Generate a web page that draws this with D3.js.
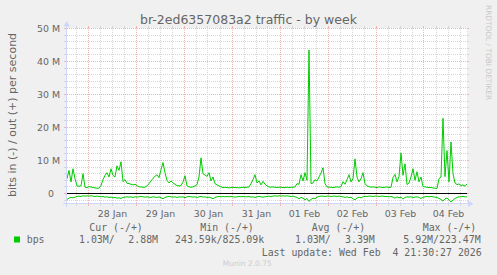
<!DOCTYPE html>
<html><head><meta charset="utf-8">
<script src="https://cdn.jsdelivr.net/npm/d3@7"></script>
<style>
html,body{margin:0;padding:0;background:#f0f0f0;}
svg{display:block;}
text{white-space:pre;}
</style></head><body>
<svg id="c" width="497" height="275"></svg>
<script>
// ---------------- data ----------------
const title = "br-2ed6357083a2 traffic - by week";
const yAxisTitle = "bits in (-) / out (+) per second";
const startTime = "2026-01-27T13:30:00Z";
const endTime = "2026-02-04T21:30:00Z";
const stepHours = 1;
// out (+) in Mbit/s, one value per hour
const outValues = [
 4.5,7.0,3.5,7.5,4.5,2.3,2.2,2.3,6.0,1.9,
 1.8,2.1,2.0,1.8,1.7,1.6,1.6,2.4,4.2,5.5,
 6.3,5.0,7.5,5.5,5.0,8.4,7.0,9.6,3.6,4.2,
 3.1,3.0,2.8,2.6,2.8,2.4,2.0,2.0,1.9,1.9,
 2.3,3.0,3.8,4.6,5.2,5.7,4.8,7.2,9.4,6.3,
 4.0,3.2,3.8,3.2,2.8,2.4,2.3,2.4,3.5,5.4,
 2.3,2.0,1.9,2.0,2.3,2.7,5.0,10.8,6.0,5.6,
 5.2,6.3,3.8,5.0,3.0,2.6,2.3,2.0,1.8,1.9,
 1.8,1.7,1.8,1.9,1.8,1.8,1.7,1.8,1.9,1.8,
 1.9,2.0,3.0,4.2,5.7,3.2,3.8,2.6,3.7,2.8,
 2.3,2.0,1.9,2.0,1.9,1.8,1.9,1.9,1.8,1.8,
 1.9,1.8,1.9,1.9,2.0,3.0,2.8,5.7,3.8,6.3,
 4.0,43.5,3.0,3.2,4.2,3.8,5.0,6.2,7.8,3.0,
 2.0,1.9,1.9,1.8,1.9,2.0,1.9,2.1,3.6,2.8,
 4.2,5.7,3.5,4.5,10.5,5.0,3.5,4.5,6.3,3.0,
 2.3,2.1,1.9,2.0,1.9,1.8,2.0,1.9,1.8,1.9,
 2.0,1.8,1.9,4.8,5.8,3.5,5.1,12.3,5.5,9.0,
 2.7,3.2,5.0,7.5,4.0,6.6,3.5,5.0,2.1,2.0,
 1.9,1.8,1.8,1.7,1.6,1.5,4.5,5.0,22.8,5.1,
 13.0,3.5,15.6,6.0,3.2,2.7,2.9,2.4,2.6,2.2,
 2.9
];
// in (-) in Mbit/s, one value per hour
const inValues = [
 -1.8,-1.4,-1.2,-1.3,-1.1,-0.9,-0.8,-0.9,-0.7,-0.8,
 -0.7,-0.8,-0.7,-0.8,-0.9,-0.8,-0.9,-1.0,-0.9,-1.1,
 -1.0,-1.2,-1.1,-1.3,-1.2,-1.4,-1.3,-1.5,-1.2,-1.1,
 -1.0,-1.1,-1.0,-1.2,-1.0,-1.1,-1.0,-0.9,-1.0,-1.1,
 -1.0,-1.1,-1.2,-1.0,-1.1,-1.2,-1.0,-1.3,-1.6,-1.2,
 -1.0,-0.9,-1.0,-1.1,-1.0,-1.2,-1.0,-1.1,-1.0,-1.3,
 -1.0,-0.9,-1.0,-1.1,-1.0,-1.2,-1.0,-0.9,-1.1,-1.0,
 -1.2,-1.1,-1.3,-1.6,-1.2,-1.0,-0.9,-1.0,-0.9,-1.0,
 -0.9,-1.0,-0.9,-1.0,-1.1,-1.0,-0.9,-1.0,-0.9,-1.0,
 -1.0,-0.9,-1.1,-1.0,-1.2,-1.0,-0.9,-1.0,-1.1,-1.0,
 -0.9,-0.8,-0.9,-0.8,-0.7,-0.8,-0.7,-0.8,-0.7,-0.8,
 -0.7,-0.8,-0.9,-0.8,-1.0,-1.2,-1.6,-1.2,-1.4,-1.9,
 -1.5,-2.4,-1.8,-1.4,-1.6,-1.1,-0.9,-0.8,-0.8,-0.9,
 -0.8,-0.8,-0.9,-0.8,-0.8,-0.9,-0.8,-0.9,-1.0,-1.2,
 -1.0,-1.3,-1.1,-1.6,-1.9,-1.4,-1.1,-1.3,-1.0,-0.9,
 -0.9,-0.8,-0.8,-0.9,-0.8,-0.8,-0.9,-0.8,-0.8,-0.9,
 -0.9,-1.0,-0.9,-1.1,-1.4,-1.0,-1.3,-1.1,-1.7,-1.2,
 -1.0,-1.1,-1.0,-1.2,-1.1,-1.0,-1.2,-1.5,-1.1,-1.0,
 -0.9,-1.0,-0.9,-1.0,-1.1,-1.2,-1.5,-1.8,-2.3,-1.6,
 -1.4,-1.9,-2.6,-2.0,-1.5,-1.2,-1.0,-1.0,-0.9,-1.0,
 -1.03
];
const yDomain = [-3, 50];
const yTickValues = [0, 10, 20, 30, 40, 50];
const yTickLabels = ["0\u00a0\u00a0", "10 M", "20 M", "30 M", "40 M", "50 M"];
const xTickDays = ["2026-01-28","2026-01-29","2026-01-30","2026-01-31","2026-02-01","2026-02-02","2026-02-03","2026-02-04"];
const xTickLabels = ["28 Jan","29 Jan","30 Jan","31 Jan","01 Feb","02 Feb","03 Feb","04 Feb"];
const legendSeries = "bps";
const legendHeaders = ["Cur (-/+)", "Min (-/+)", "Avg (-/+)", "Max (-/+)"];
const legendValues = ["1.03M/", "2.88M", "243.59k/825.09k", "1.03M/", "3.39M", "5.92M/223.47M"];
const lastUpdate = "Last update: Wed Feb  4 21:30:27 2026";
const footer = "Munin 2.0.75";
const watermark = "RRDTOOL / TOBI OETIKER";

// ---------------- drawing ----------------
const svg = d3.select("#c");
const X0 = 67, X1 = 467, YT = 28.5, YB = 203.4;
const HOUR = 3600e3;
const t0 = new Date(startTime), t1 = new Date(endTime);
const x = d3.scaleUtc().domain([t0, t1]).range([X0, X1]);
const y = d3.scaleLinear().domain(yDomain).range([YB, YT]);
const px = v => Math.round(v - 0.5) + 0.5;

const FONT = "'DejaVu Sans', sans-serif";
const MONO = "'DejaVu Sans Mono', monospace";
const TXT = "#666666";

svg.append("rect").attr("width", 497).attr("height", 275).attr("fill", "#f0f0f0");
svg.append("rect").attr("x", X0).attr("y", 28).attr("width", X1 - X0).attr("height", 203 - 28).attr("fill", "#ffffff");

const minorC = "#d6d6d6", majorC = "#f0b4b4";
const grid = svg.append("g").attr("shape-rendering", "crispEdges");

function hline(v, c) {
  const yy = px(y(v));
  grid.append("line").attr("x1", X0).attr("x2", X1).attr("y1", yy).attr("y2", yy)
    .attr("stroke", c).attr("stroke-dasharray", "1,1");
  grid.append("line").attr("x1", X0 - 3).attr("x2", X0).attr("y1", yy).attr("y2", yy).attr("stroke", c);
  grid.append("line").attr("x1", X1).attr("x2", X1 + 2).attr("y1", yy).attr("y2", yy).attr("stroke", c);
}
d3.range(-2, yDomain[1], 2).filter(v => v % 10 !== 0).forEach(v => hline(v, minorC));
d3.range(0, yDomain[1] + 0.001, 10).forEach(v => hline(v, majorC));

// vertical grid
const sixH = d3.utcHour.every(6).range(t0, t1);
const days = d3.utcDay.range(t0, t1);
function vline(t, c) {
  const xx = px(x(t));
  grid.append("line").attr("x1", xx).attr("x2", xx).attr("y1", 28).attr("y2", 203)
    .attr("stroke", c).attr("stroke-dasharray", "1,1");
  grid.append("line").attr("x1", xx).attr("x2", xx).attr("y1", 203).attr("y2", 206).attr("stroke", c);
  grid.append("line").attr("x1", xx).attr("x2", xx).attr("y1", 26).attr("y2", 28).attr("stroke", c);
}
sixH.filter(t => t.getUTCHours() !== 0).forEach(t => vline(t, minorC));
days.forEach(t => vline(t, majorC));

// data lines
const timeAt = i => new Date(t0.getTime() + i * stepHours * HOUR);
const line = d3.line().x((d, i) => x(timeAt(i))).y(d => y(d));
svg.append("path").datum(outValues).attr("d", line).attr("fill", "none").attr("stroke", "#00cc00").attr("stroke-width", 1);
svg.append("path").datum(inValues).attr("d", line).attr("fill", "none").attr("stroke", "#00cc00").attr("stroke-width", 1);

// zero line
svg.append("line").attr("x1", X0).attr("x2", X1).attr("y1", px(y(0))).attr("y2", px(y(0)))
  .attr("stroke", "#000").attr("stroke-width", 1).attr("shape-rendering", "crispEdges");

// axes
const AX = "#cfd6f8";
svg.append("line").attr("x1", 66.5).attr("x2", 66.5).attr("y1", 207).attr("y2", 24)
  .attr("stroke", AX).attr("shape-rendering", "crispEdges");
svg.append("line").attr("x1", 63).attr("x2", 470).attr("y1", 203.5).attr("y2", 203.5)
  .attr("stroke", AX).attr("shape-rendering", "crispEdges");
svg.append("path").attr("d", "M63.5,26.5L70,26.5L66.75,21Z").attr("fill", AX);
svg.append("path").attr("d", "M468,200.5L468,207L473.5,203.75Z").attr("fill", AX);

// y tick labels
const yAxis = d3.axisLeft(y).tickValues(yTickValues).tickFormat((d, i) => yTickLabels[i]).tickSize(0).tickPadding(0);
const gy = svg.append("g").attr("transform", "translate(60,0)").call(yAxis);
gy.select(".domain").remove();
gy.selectAll("text").attr("font-family", FONT).attr("font-size", 9.4).attr("fill", TXT).attr("dy", "0.36em");

// x tick labels (centred at noon)
const noon = xTickDays.map(d => new Date(new Date(d + "T00:00:00Z").getTime() + 12 * HOUR));
const xAxis = d3.axisBottom(x).tickValues(noon).tickFormat((d, i) => xTickLabels[i]).tickSize(0).tickPadding(0);
const gx = svg.append("g").attr("transform", "translate(0,216.5)").call(xAxis);
gx.select(".domain").remove();
gx.selectAll("text").attr("font-family", FONT).attr("font-size", 9.4).attr("fill", TXT).attr("dy", 0).attr("y", 0);

// title
svg.append("text").attr("x", 248.5).attr("y", 23.5).attr("text-anchor", "middle")
  .attr("font-family", FONT).attr("font-size", 12.5).attr("fill", TXT).text(title);

// y axis title
svg.append("text").attr("transform", "translate(15.5,115) rotate(-90)").attr("text-anchor", "middle")
  .attr("font-family", FONT).attr("font-size", 11).attr("fill", TXT).text(yAxisTitle);

// watermark
svg.append("text").attr("transform", "translate(485.5,5) rotate(90)")
  .attr("font-family", FONT).attr("font-size", 7.4).attr("fill", "#c8c8c8").text(watermark);

// legend
const lg = svg.append("g").attr("font-family", MONO).attr("font-size", 9.9).attr("fill", TXT);
const hdrX = [89.3, 200.3, 311.7, 422.7];
legendHeaders.forEach((h, i) => lg.append("text").attr("x", hdrX[i]).attr("y", 230.5).text(h));
svg.append("rect").attr("x", 14).attr("y", 236.5).attr("width", 6).attr("height", 6).attr("fill", "#00cc00");
lg.append("text").attr("x", 26.7).attr("y", 243).text(legendSeries);
const valX = [79, 128.3, 175, 295, 345, 403.3];
legendValues.forEach((v, i) => lg.append("text").attr("x", valX[i]).attr("y", 243).text(v));
lg.append("text").attr("x", 261.7).attr("y", 255.5).text(lastUpdate);

svg.append("text").attr("x", 222.7).attr("y", 266).attr("font-family", FONT).attr("font-size", 7.5)
  .attr("fill", "#cccccc").text(footer);
</script>
</body></html>
